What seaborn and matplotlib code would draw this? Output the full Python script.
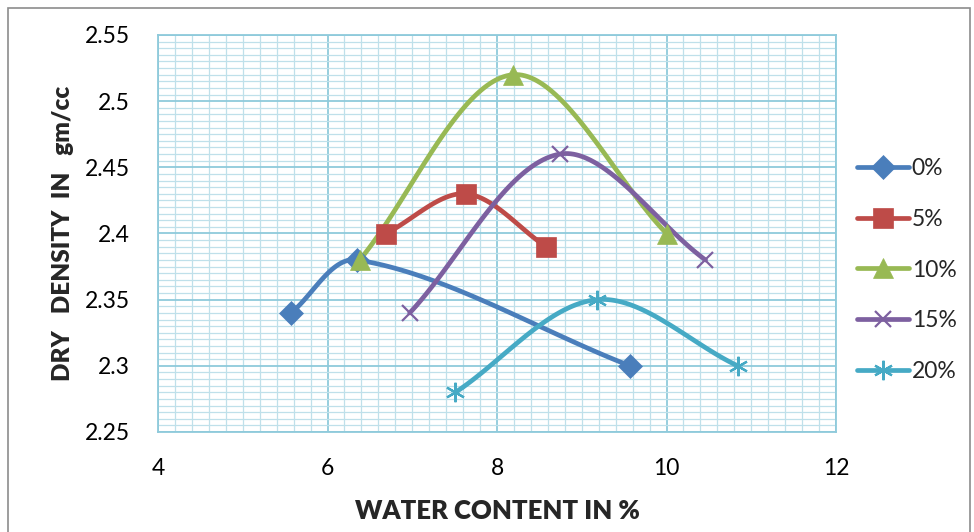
import matplotlib
matplotlib.use("Agg")
import matplotlib.pyplot as plt
import matplotlib.patches as patches
from matplotlib.lines import Line2D
from matplotlib.ticker import MultipleLocator, FuncFormatter
import seaborn as sns
import numpy as np
import pandas as pd

# Data (water content %, dry density gm/cc)
labels = ['0%', '5%', '10%', '15%', '20%']
x_0 = [5.57, 6.35, 9.57]
y_0 = [2.34, 2.38, 2.30]
x_5 = [6.69, 7.63, 8.58]
y_5 = [2.40, 2.43, 2.39]
x_10 = [6.38, 8.19, 10.0]
y_10 = [2.38, 2.52, 2.40]
x_15 = [6.97, 8.74, 10.46]
y_15 = [2.34, 2.46, 2.38]
x_20 = [7.51, 9.18, 10.84]
y_20 = [2.28, 2.35, 2.30]

series_x = [x_0, x_5, x_10, x_15, x_20]
series_y = [y_0, y_5, y_10, y_15, y_20]
colors = ['#4A7EBB', '#BE4B48', '#98B954', '#7D60A0', '#46AAC5']
markers = ['D', 's', '^', 'x', (6, 2, 0)]
msizes = [12, 14, 15, 12, 14]

# approximate pixels per data unit, so the smoothing is done in screen space
SX, SY = 84.8, 1323.0


def excel_smooth(xs, ys, n=50):
    # smoothed line like a spreadsheet's: chord-weighted cubic Bezier segments
    p = np.column_stack([np.array(xs) * SX, np.array(ys) * SY])
    m = len(p)
    d = [np.linalg.norm(p[i + 1] - p[i]) for i in range(m - 1)]
    out = []
    for i in range(m - 1):
        a = p[i - 1] if i > 0 else p[i]
        b = p[i + 2] if i + 2 < m else p[i + 1]
        dprev = d[i - 1] if i > 0 else 0.0
        dnext = d[i + 1] if i + 1 < m - 1 else 0.0
        c1 = p[i] + (p[i + 1] - a) * d[i] / (dprev + d[i]) / 3
        c2 = p[i + 1] - (b - p[i]) * d[i] / (d[i] + dnext) / 3
        t = np.linspace(0, 1, n)[:, None]
        seg = ((1 - t) ** 3 * p[i] + 3 * (1 - t) ** 2 * t * c1
               + 3 * (1 - t) * t ** 2 * c2 + t ** 3 * p[i + 1])
        out.append(seg if i == 0 else seg[1:])
    curve = np.vstack(out)
    return curve[:, 0] / SX, curve[:, 1] / SY


sns.set_theme(style="white")
plt.rcParams['font.family'] = ['Lato', 'DejaVu Sans']

fig = plt.figure(figsize=(9.74, 5.32), dpi=100)
ax = fig.add_axes([158 / 974, 1 - 432 / 532, (836 - 158) / 974, (432 - 35) / 532])

# outer chart border
fig.patches.append(patches.Rectangle((8 / 974, -0.05), 962 / 974, 1.05 - 8 / 532,
                                     transform=fig.transFigure, fill=False,
                                     edgecolor='#8C8C8C', linewidth=1.2))

for xs, ys, c in zip(series_x, series_y, colors):
    cx, cy = excel_smooth(xs, ys)
    df = pd.DataFrame({'x': cx, 'y': cy})
    sns.lineplot(data=df, x='x', y='y', sort=False, estimator=None,
                 color=c, linewidth=3.4, ax=ax, zorder=3)

for xs, ys, c, m, ms in zip(series_x, series_y, colors, markers, msizes):
    ax.plot(xs, ys, linestyle='none', marker=m, markersize=ms, color=c,
            markeredgewidth=1.6 if m in ('x', (6, 2, 0)) else 0.5,
            markeredgecolor=c, zorder=4)

ax.set_xlim(4, 12)
ax.set_ylim(2.25, 2.55)
ax.xaxis.set_major_locator(MultipleLocator(2))
ax.yaxis.set_major_locator(MultipleLocator(0.05))
ax.xaxis.set_minor_locator(MultipleLocator(0.2))
ax.yaxis.set_minor_locator(MultipleLocator(0.005))
ax.yaxis.set_major_formatter(FuncFormatter(lambda v, p: f'{v:g}'))

ax.grid(which='major', color='#8FCADB', linewidth=1.3)
ax.grid(which='minor', color='#BFE0EA', linewidth=0.9)
ax.set_axisbelow(True)
for s in ax.spines.values():
    s.set_color('#8FCADB')
    s.set_linewidth(1.3)

ax.tick_params(axis='both', which='major', direction='out', length=7,
               color='#8FCADB', width=1.3, labelsize=16.5, labelcolor='black')
ax.tick_params(axis='both', which='minor', length=0)
ax.tick_params(axis='x', pad=12)
ax.tick_params(axis='y', pad=13)

ax.set_xlabel('WATER CONTENT IN %', fontsize=18.5, fontweight='heavy', labelpad=14)
ax.set_ylabel('DRY   DENSITY  IN   gm/cc', fontsize=17.5, fontweight='heavy', labelpad=8)

handles = [Line2D([0], [0], color=c, linewidth=3.4, marker=m, markersize=ms,
                  markeredgewidth=1.6 if m in ('x', (6, 2, 0)) else 0.5,
                  markeredgecolor=c)
           for c, m, ms in zip(colors, markers, msizes)]
fig.legend(handles, labels, loc='center left', bbox_to_anchor=(836 / 974, 1 - 270 / 532),
           frameon=False, fontsize=16.5, labelspacing=1.3, handlelength=2.3,
           handletextpad=0.1)

fig.savefig('out.png', dpi=100)
